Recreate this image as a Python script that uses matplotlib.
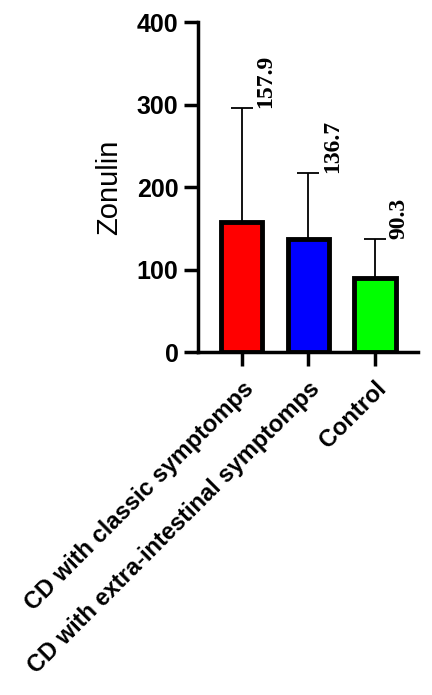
import matplotlib.pyplot as plt

plt.rcParams['font.family'] = 'Liberation Sans'

groups = ['CD with classic symptomps', 'CD with extra-intestinal symptomps', 'Control']
means = [157.9, 136.7, 90.3]
errors = [138, 80, 47]
colors = ['#ff0000', '#0000ff', '#00ff00']

fig = plt.figure(figsize=(4.32, 6.95), dpi=100)
ax = fig.add_axes([0.458, 0.4935, 0.51, 0.4745])

x = list(range(len(groups)))
ax.bar(x, means, width=0.62, color=colors, edgecolor='black', linewidth=3.5, zorder=3)
ax.errorbar(x, means, yerr=[[0] * len(errors), errors], fmt='none', ecolor='black',
            elinewidth=1.3, capsize=8, capthick=1.3, zorder=2)

for xi, m, e in zip(x, means, errors):
    ax.text(xi + 0.36, m + e, f'{m:.1f}', rotation=90, ha='center', va='bottom',
            fontsize=17, fontweight='bold', family='Liberation Serif')

ax.set_xlim(-0.66, 2.65)
ax.set_ylim(0, 400)
ax.set_yticks([0, 100, 200, 300, 400])
ax.set_xticks(x)
ax.set_xticklabels(groups, rotation=45, ha='right', rotation_mode='anchor',
                   fontsize=17, fontweight='bold')
ax.set_ylabel('Zonulin', fontsize=21, labelpad=10)

for lab in ax.get_yticklabels():
    lab.set_fontsize(18)
    lab.set_fontweight('bold')

ax.spines['top'].set_visible(False)
ax.spines['right'].set_visible(False)
ax.spines['left'].set_linewidth(2.5)
ax.spines['bottom'].set_linewidth(2.5)
ax.tick_params(axis='both', width=2.5, length=10, pad=4)
ax.tick_params(axis='x', pad=8)

fig.savefig('out.png', dpi=100)
